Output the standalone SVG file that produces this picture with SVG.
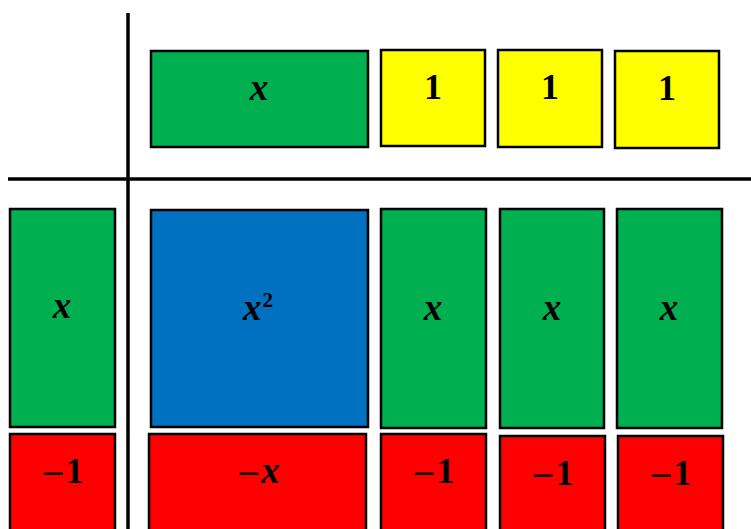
<svg xmlns="http://www.w3.org/2000/svg" width="751" height="529" viewBox="0 0 751 529">
<style>
.t{stroke:#000;stroke-width:2.5}
.g{fill:#00B050}.y{fill:#FFFF00}.b{fill:#0070C0}.r{fill:#FF0000}
text{font-family:"Liberation Serif","DejaVu Serif",serif;font-weight:bold;font-size:36px;text-anchor:middle;fill:#000}
.v{font-style:italic;font-size:37px}
.s{font-size:21px;font-style:normal}
.m{font-family:"DejaVu Sans",sans-serif;font-weight:normal;font-size:30px}
.ax{stroke:#000;stroke-width:3.5;fill:none}
</style>
<rect width="751" height="529" fill="#fff"/>
<g id="axes">
<line class="ax" x1="128" y1="13" x2="128" y2="529"/>
<line class="ax" x1="8" y1="179" x2="751" y2="179"/>
</g>
<g id="top-x"><rect class="t g" x="151" y="51" width="217" height="96"/><text class="v" x="259" y="100">x</text></g>
<g id="top-1a"><rect class="t y" x="381" y="50" width="104" height="96"/><text x="433" y="99">1</text></g>
<g id="top-1b"><rect class="t y" x="498" y="50" width="104" height="97"/><text x="550" y="99">1</text></g>
<g id="top-1c"><rect class="t y" x="615" y="51" width="104" height="97"/><text x="667" y="100">1</text></g>
<g id="left-x"><rect class="t g" x="10" y="209" width="105" height="218"/><text class="v" x="62" y="318">x</text></g>
<g id="left-m1"><rect class="t r" x="10" y="434" width="105" height="100"/><text x="62" y="483"><tspan class="m">−</tspan>1</text></g>
<g id="x2"><rect class="t b" x="151" y="210" width="217" height="217"/><text x="258" y="320"><tspan class="v">x</tspan><tspan class="s" dx="1" dy="-13">2</tspan></text></g>
<g id="mx"><rect class="t r" x="149" y="434" width="217" height="100"/><text x="258" y="483"><tspan class="m">−</tspan><tspan class="v">x</tspan></text></g>
<g id="x-a"><rect class="t g" x="381" y="209" width="105" height="219"/><text class="v" x="433" y="320">x</text></g>
<g id="x-b"><rect class="t g" x="500" y="209" width="104" height="219"/><text class="v" x="552" y="320">x</text></g>
<g id="x-c"><rect class="t g" x="617" y="209" width="105" height="219"/><text class="v" x="669" y="320">x</text></g>
<g id="m1-a"><rect class="t r" x="381" y="434" width="105" height="100"/><text x="433" y="483"><tspan class="m">−</tspan>1</text></g>
<g id="m1-b"><rect class="t r" x="500" y="436" width="105" height="100"/><text x="552" y="485"><tspan class="m">−</tspan>1</text></g>
<g id="m1-c"><rect class="t r" x="618" y="436" width="105" height="100"/><text x="670" y="485"><tspan class="m">−</tspan>1</text></g>
</svg>
